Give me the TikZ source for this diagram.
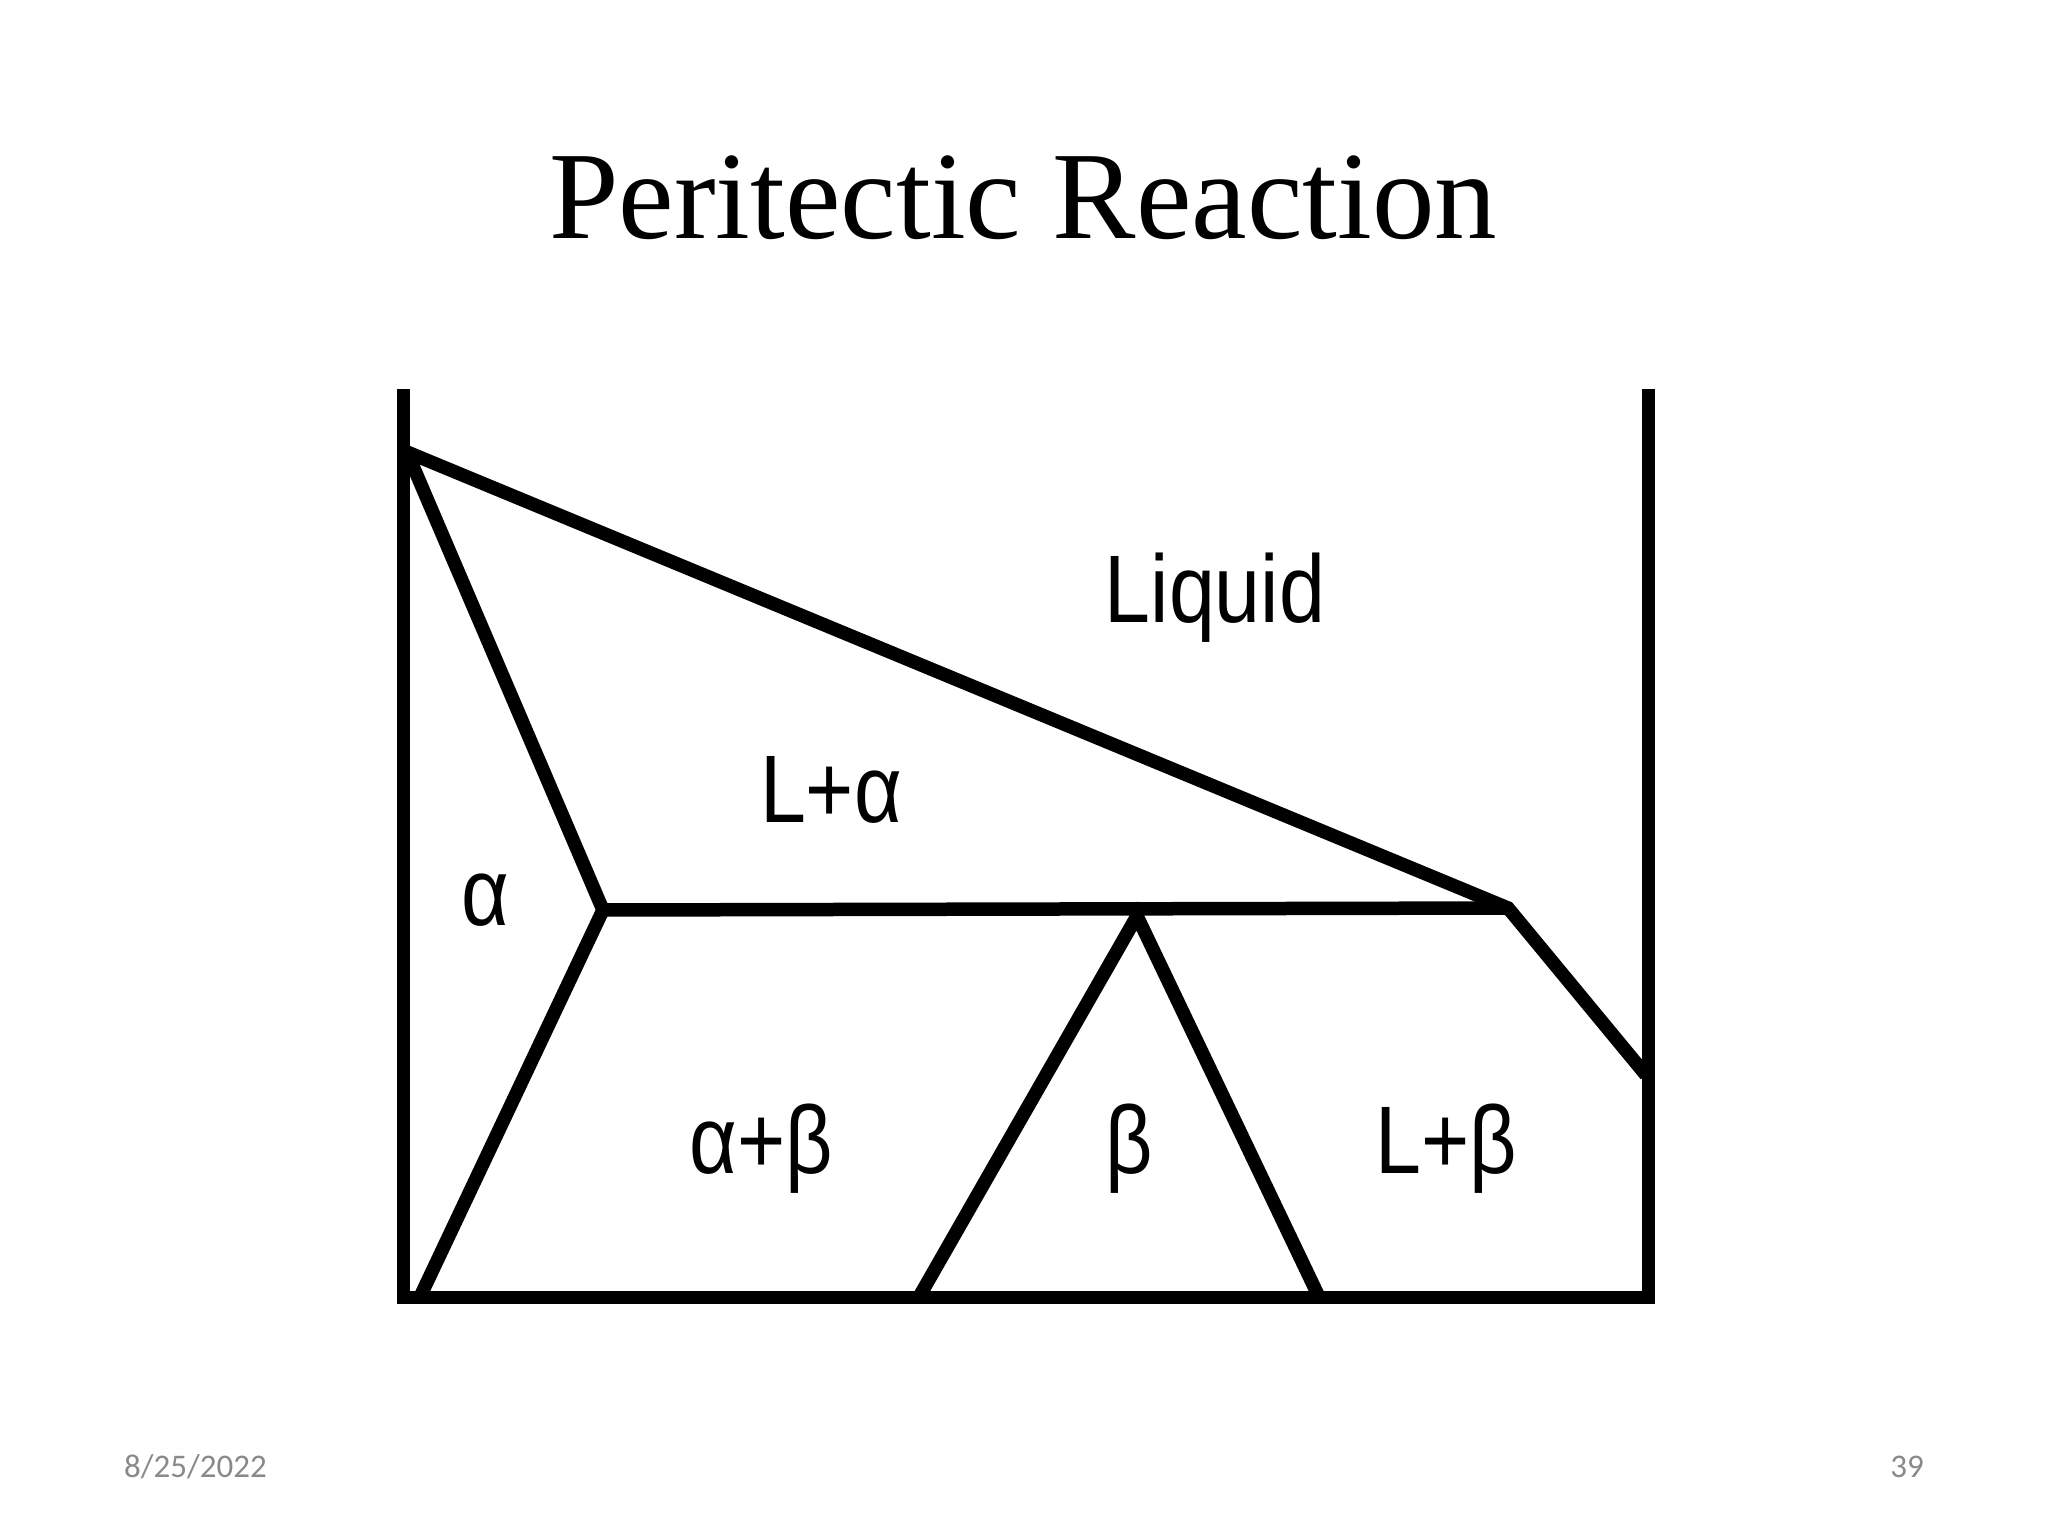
\documentclass[tikz,border=0pt]{standalone}
\usepackage{fontspec}
\setmainfont{Liberation Serif}
\newfontfamily\labfont{Liberation Sans}
\newfontfamily\footfont{Carlito}
\definecolor{footgray}{RGB}{137,137,137}
\begin{document}
\begin{tikzpicture}[x=1pt,y=-1pt,
  axisline/.style={line width=13pt, line join=miter, line cap=butt},
  phaseline/.style={line width=13.5pt, line join=miter, line cap=butt},
  phaselabel/.style={font=\fontsize{96}{110}\selectfont\labfont, inner sep=0pt, anchor=base, xscale=0.86},
  foottext/.style={font=\fontsize{33}{40}\selectfont\footfont, text=footgray, inner sep=0pt}]
\useasboundingbox (0,0) rectangle (2048,1536);
% title
\node[font=\fontsize{125}{150}\selectfont, inner sep=0pt, anchor=base] (title) at (1023,238) {Peritectic Reaction};
% frame coordinates
\coordinate (TL) at (403.5,389);
\coordinate (BL) at (403.5,1297);
\coordinate (BR) at (1648,1297);
\coordinate (TR) at (1648,389);
% phase boundary points
\coordinate (A) at (407,452);
\coordinate (Pa) at (603,910);
\coordinate (Pl) at (1508,908);
\coordinate (Rb) at (1646,1075);
\coordinate (Ab) at (420,1297);
\coordinate (Pb) at (1137,916);
\coordinate (Bl) at (919,1297);
\coordinate (Br) at (1319,1297);
% axes
\draw[axisline] (TL) -- (BL) -- (BR) -- (TR);
% liquidus
\draw[phaseline] (A) -- (Pl) -- (Rb);
% alpha solidus / solvus
\draw[phaseline] (A) -- (Pa) -- (Ab);
% peritectic line
\draw[phaseline] (Pa) -- (Pl);
% beta field
\draw[phaseline] (Bl) -- (Pb) -- (Br);
% labels
\node[phaselabel] (liquid) at (1215,622) {Liquid};
\node[phaselabel] (lalpha) at (831,822) {L+α};
\node[phaselabel] (alpha) at (485,925) {α};
\node[phaselabel] (ab) at (761,1173) {α+β};
\node[phaselabel] (beta) at (1129,1173) {β};
\node[phaselabel] (lbeta) at (1446,1173) {L+β};
% footer
\node[foottext, anchor=base west] (date) at (124,1477) {8/25/2022};
\node[foottext, anchor=base east] (page) at (1924,1477) {39};
\end{tikzpicture}
\end{document}
